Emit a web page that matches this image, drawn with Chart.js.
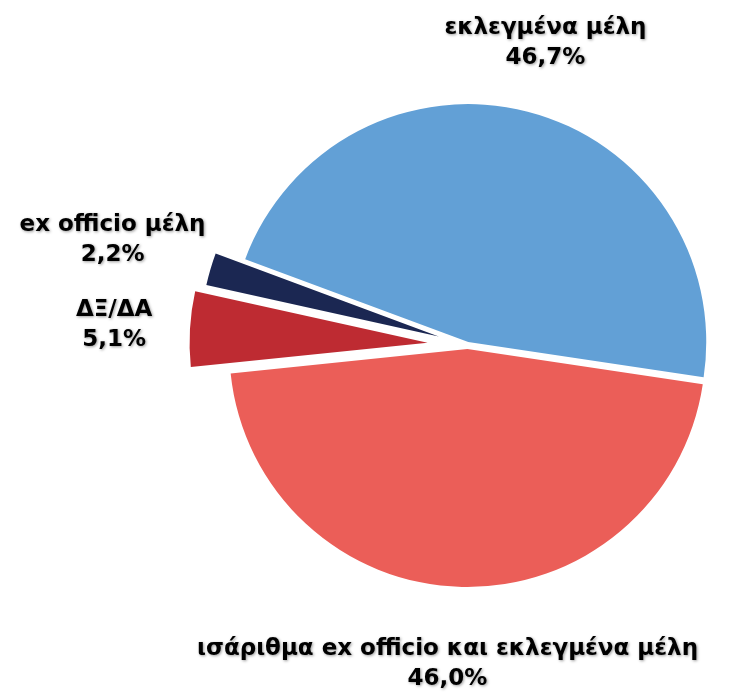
<!DOCTYPE html>
<html>
<head>
<meta charset="utf-8">
<script src="https://cdn.jsdelivr.net/npm/chart.js@4.4.1/dist/chart.umd.min.js"></script>
<style>
  html, body { margin: 0; padding: 0; background: #ffffff; }
  #wrap { width: 735px; height: 692px; }
</style>
</head>
<body>
<div id="wrap"><canvas id="c" width="735" height="692"></canvas></div>
<script>
// ---- data ----
const categories = ["εκλεγμένα μέλη", "ισάριθμα ex officio και εκλεγμένα μέλη", "ΔΞ/ΔΑ", "ex officio μέλη"];
const shares = [46.7, 46.0, 5.1, 2.2];

// ---- styling (kept separate from data) ----
const sliceColors = ["#62a0d6", "#eb5e58", "#be2b32", "#1b2752"];
const explodePx = [3, 4, 40, 30];
const labelRadiusFactor = [1.298, 1.324, 1.319, 1.429];
const labelRightMargin = 37;

const explodePlugin = {
  id: 'explode',
  afterDatasetUpdate(chart, args) {
    const meta = args.meta;
    meta.data.forEach((el, i) => {
      const mid = (el.startAngle + el.endAngle) / 2;
      el.x += Math.cos(mid) * explodePx[i];
      el.y += Math.sin(mid) * explodePx[i];
    });
  }
};

const labelPlugin = {
  id: 'sliceLabels',
  afterDatasetsDraw(chart) {
    const ctx = chart.ctx;
    const meta = chart.getDatasetMeta(0);
    ctx.save();
    ctx.font = 'bold 23px "DejaVu Sans"';
    ctx.fillStyle = '#000000';
    ctx.textAlign = 'center';
    ctx.textBaseline = 'middle';
    ctx.shadowColor = 'rgba(0,0,0,0.4)';
    ctx.shadowBlur = 3;
    ctx.shadowOffsetX = 1;
    ctx.shadowOffsetY = 1;
    meta.data.forEach((el, i) => {
      const mid = (el.startAngle + el.endAngle) / 2;
      const d = el.outerRadius * labelRadiusFactor[i];
      let x = el.x + Math.cos(mid) * d;
      const y = el.y + Math.sin(mid) * d;
      const pct = shares[i].toFixed(1).replace('.', ',') + '%';
      const w = Math.max(ctx.measureText(categories[i]).width, ctx.measureText(pct).width);
      const maxRight = chart.width - labelRightMargin;
      if (x + w / 2 > maxRight) x = maxRight - w / 2;
      ctx.fillText(categories[i], x, y - 15);
      ctx.fillText(pct, x, y + 15);
    });
    ctx.restore();
  }
};

new Chart(document.getElementById('c'), {
  type: 'pie',
  data: {
    labels: categories,
    datasets: [{
      data: shares,
      backgroundColor: sliceColors,
      borderWidth: 0,
      offset: 0
    }]
  },
  options: {
    responsive: false,
    animation: false,
    events: [],
    rotation: 290.4,
    layout: { padding: { left: 229.5, right: 29.5, top: 107, bottom: 109 } },
    plugins: {
      legend: { display: false },
      tooltip: { enabled: false },
      title: { display: false }
    }
  },
  plugins: [explodePlugin, labelPlugin]
});
</script>
</body>
</html>
